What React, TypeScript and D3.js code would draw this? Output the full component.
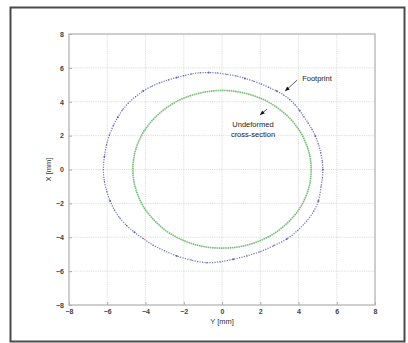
import React, { useEffect, useRef } from 'react';
import * as d3 from 'd3';

// horizontal axis = Y [mm], vertical axis = X [mm]
const tickValues = [-8, -6, -4, -2, 0, 2, 4, 6, 8];

// footprint points [Y, X] in mm
const footprintY = [
  5.27, 5.24, 5.16, 5.04, 4.88, 4.7, 4.5, 4.28, 4.06, 3.82, 3.55, 3.22, 2.86, 2.45, 2.05, 1.64,
  1.2, 0.75, 0.25, -0.25, -0.7, -1.15, -1.6, -2.0, -2.37, -2.8, -3.25, -3.7, -4.12, -4.52,
  -4.9, -5.2, -5.45, -5.68, -5.88, -6.04, -6.15, -6.2, -6.15, -6.02, -5.85, -5.62, -5.35, -4.99, -4.58,
  -4.12, -3.6, -3.0, -2.37, -1.6, -0.8, -0.1, 0.59, 1.3, 1.99, 2.7, 3.39, 3.95, 4.43, 4.8,
  5.04, 5.18, 5.25
];
const footprintX = [
  0.0, 0.5, 1.0, 1.5, 1.98, 2.38, 2.75, 3.12, 3.48, 3.82, 4.12, 4.4, 4.63, 4.85, 5.05, 5.22,
  5.38, 5.52, 5.62, 5.7, 5.72, 5.71, 5.64, 5.54, 5.43, 5.29, 5.12, 4.9, 4.63, 4.3,
  3.92, 3.52, 3.08, 2.6, 2.05, 1.45, 0.75, 0.0, -0.7, -1.3, -1.85, -2.4, -2.85, -3.3, -3.7,
  -4.08, -4.47, -4.8, -5.1, -5.35, -5.5, -5.45, -5.3, -5.1, -4.85, -4.5, -4.1, -3.6, -3.04, -2.45,
  -1.86, -1.0, -0.5
];

// undeformed cross-section points [Y, X] in mm
const sectionY = [
  4.66, 4.59, 4.37, 4.03, 3.57, 2.99, 2.33, 1.6, 0.81, 0.0, -0.81, -1.59, -2.33, -2.99,
  -3.57, -4.04, -4.38, -4.59, -4.66, -4.59, -4.37, -4.03, -3.56, -2.99, -2.32, -1.59,
  -0.81, 0.0, 0.81, 1.59, 2.33, 2.99, 3.57, 4.04, 4.38, 4.6
];
const sectionX = [
  0.0, 0.81, 1.6, 2.33, 2.99, 3.57, 4.04, 4.38, 4.59, 4.67, 4.59, 4.38, 4.04, 3.57,
  2.99, 2.33, 1.59, 0.81, 0.0, -0.81, -1.59, -2.33, -2.98, -3.56, -4.03, -4.37,
  -4.58, -4.64, -4.58, -4.37, -4.03, -3.57, -2.99, -2.33, -1.6, -0.81
];

const BLUE = '#4e4eb8';
const GREEN = '#78bd78';

const App = () => {
  const ref = useRef<SVGSVGElement>(null);

  useEffect(() => {
    const svg = d3.select(ref.current);
    svg.selectAll('*').remove();

    const x = d3.scaleLinear().domain([-8, 8]).range([69, 375]);
    const y = d3.scaleLinear().domain([-8, 8]).range([305, 34]);

    // outer frame
    svg.append('rect')
      .attr('x', 10.5).attr('y', 7.5)
      .attr('width', 394).attr('height', 334)
      .attr('fill', '#fff')
      .attr('stroke', '#4a4a4a')
      .attr('stroke-width', 2);

    const g = svg.append('g');

    // grid
    tickValues.slice(1, -1).forEach((t) => {
      g.append('line')
        .attr('x1', x(t)).attr('x2', x(t)).attr('y1', y(-8)).attr('y2', y(8))
        .attr('stroke', '#d4d4d4').attr('stroke-width', 0.8).attr('stroke-dasharray', '1.2 1');
      g.append('line')
        .attr('x1', x(-8)).attr('x2', x(8)).attr('y1', y(t)).attr('y2', y(t))
        .attr('stroke', '#d4d4d4').attr('stroke-width', 0.8).attr('stroke-dasharray', '1.2 1');
    });

    // axes
    const axisStyle = (sel: any) => {
      sel.select('.domain').remove();
      sel.selectAll('line').attr('stroke', '#aaa');
      sel.selectAll('text')
        .attr('fill', '#444')
        .attr('font-family', 'Liberation Sans, Arial, sans-serif')
        .attr('font-size', 7)
        .attr('font-weight', 'bold');
    };
    g.append('g')
      .attr('transform', `translate(0,${y(-8)})`)
      .call(d3.axisBottom(x).tickValues(tickValues).tickSize(-3).tickPadding(4))
      .call(axisStyle);
    g.append('g')
      .attr('transform', `translate(${x(-8)},0)`)
      .call(d3.axisLeft(y).tickValues(tickValues).tickSize(-3).tickPadding(5))
      .call(axisStyle);

    g.append('rect')
      .attr('x', x(-8)).attr('y', y(8))
      .attr('width', x(8) - x(-8)).attr('height', y(-8) - y(8))
      .attr('fill', 'none').attr('stroke', '#b4b4b4').attr('stroke-width', 1.3);

    const line = d3.line<number>()
      .x((d) => x(d[0]))
      .y((d) => y(d[1]))
      .curve(d3.curveCatmullRomClosed.alpha(0.5));

    // undeformed cross-section
    const section = sectionY.map((v, i) => [v, sectionX[i]]);
    g.append('path')
      .attr('d', line(section as any))
      .attr('fill', 'none')
      .attr('stroke', GREEN)
      .attr('stroke-width', 1.6)
      .attr('stroke-dasharray', '1.6 0.6');

    // footprint
    const footprint = footprintY.map((v, i) => [v, footprintX[i]]);
    g.append('path')
      .attr('d', line(footprint as any))
      .attr('fill', 'none')
      .attr('stroke', BLUE)
      .attr('stroke-opacity', 0.8)
      .attr('stroke-width', 1.2)
      .attr('stroke-dasharray', '1.2 1.3');
    g.append('g')
      .selectAll('circle')
      .data(footprint)
      .enter()
      .append('circle')
      .attr('cx', (d) => x(d[0]))
      .attr('cy', (d) => y(d[1]))
      .attr('r', (d, i) => (i % 4 === 0 ? 1.0 : 0.6))
      .attr('fill', BLUE)
      .attr('fill-opacity', 0.85);

    // annotations
    const ann = g.append('g')
      .attr('font-family', 'Liberation Sans, Arial, sans-serif')
      .attr('font-size', 7.5)
      .attr('fill', '#222');
    ann.append('text').attr('x', x(4.19)).attr('y', y(5.22)).text('Footprint');
    ann.append('text').attr('x', x(1.62)).attr('y', y(2.5)).attr('text-anchor', 'middle').text('Undeformed');
    ann.append('text').attr('x', x(1.62)).attr('y', y(1.92)).attr('text-anchor', 'middle').text('cross-section');

    const arrow = (t: number[], h: number[]) => {
      const x1 = x(t[0]), y1 = y(t[1]), x2 = x(h[0]), y2 = y(h[1]);
      const a = Math.atan2(y2 - y1, x2 - x1);
      ann.append('line')
        .attr('x1', x1).attr('y1', y1).attr('x2', x2).attr('y2', y2)
        .attr('stroke', '#333').attr('stroke-width', 0.8);
      const L = 4.5, W = 2;
      const p = [
        [x2, y2],
        [x2 - L * Math.cos(a) + W * Math.sin(a), y2 - L * Math.sin(a) - W * Math.cos(a)],
        [x2 - L * Math.cos(a) - W * Math.sin(a), y2 - L * Math.sin(a) + W * Math.cos(a)]
      ];
      ann.append('path').attr('d', 'M' + p.map((q) => q.join(',')).join('L') + 'Z').attr('fill', '#111');
    };
    arrow([3.93, 5.28], [3.3, 4.63]);
    arrow([2.36, 3.57], [1.99, 3.22]);

    // axis titles
    svg.append('text')
      .attr('x', x(0)).attr('y', 324)
      .attr('text-anchor', 'middle')
      .attr('font-family', 'Liberation Sans, Arial, sans-serif')
      .attr('font-size', 7.5)
      .attr('fill', '#333')
      .text('Y [mm]');
    svg.append('text')
      .attr('transform', `translate(51,${y(0)}) rotate(-90)`)
      .attr('text-anchor', 'middle')
      .attr('font-family', 'Liberation Sans, Arial, sans-serif')
      .attr('font-size', 7.5)
      .attr('fill', '#333')
      .text('X [mm]');
  }, []);

  return (
    <svg
      ref={ref}
      width={408}
      height={343}
      style={{ position: 'absolute', left: 0, top: 0, display: 'block', background: '#fff' }}
    />
  );
};

export default App;
